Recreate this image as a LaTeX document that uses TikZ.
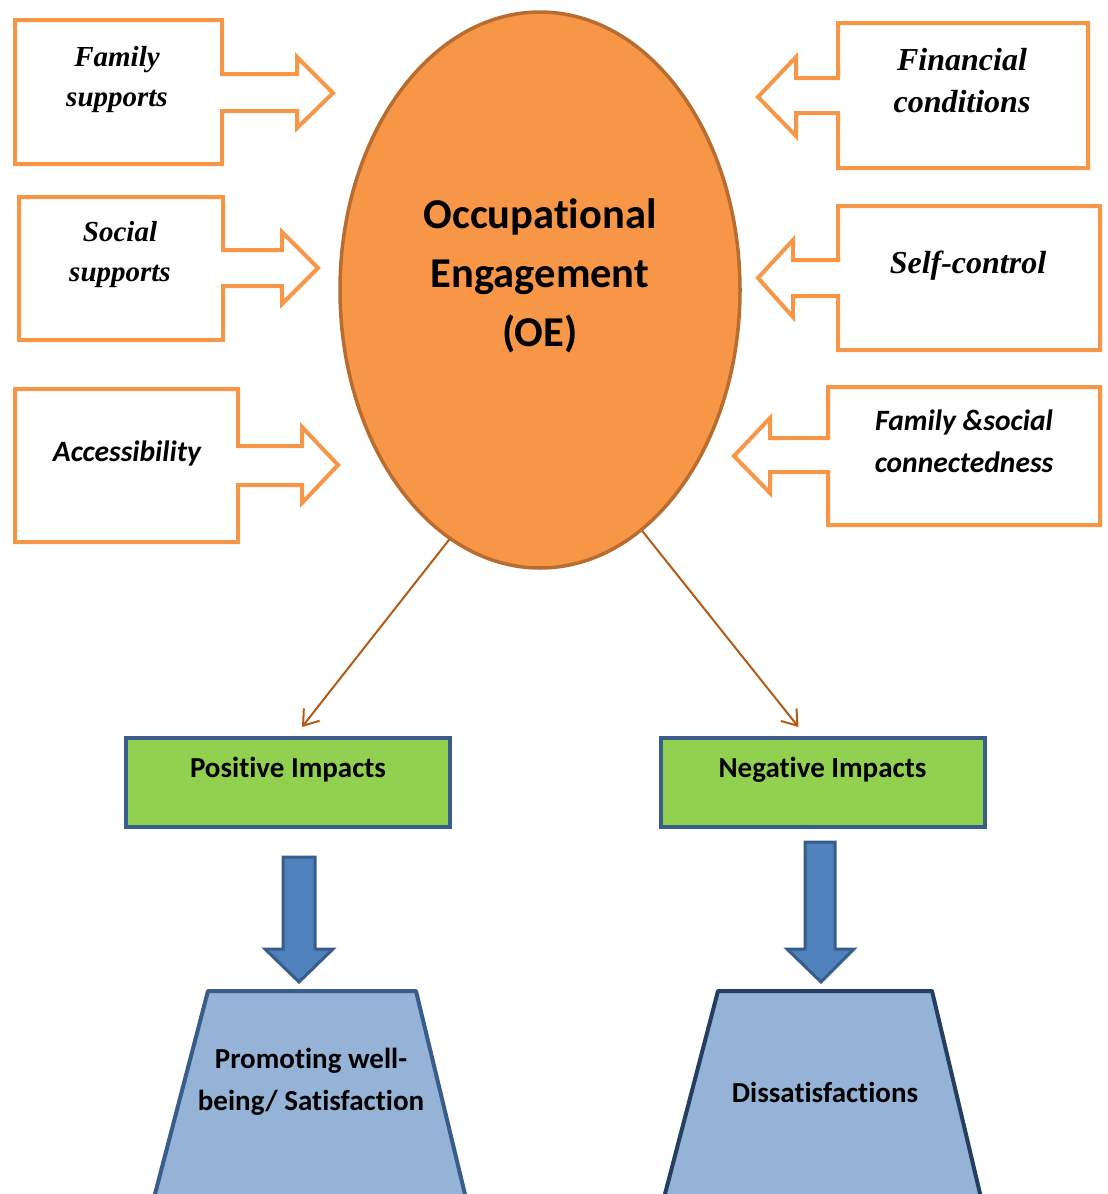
\documentclass[tikz,border=0pt]{standalone}
\usepackage{fontspec}
\setmainfont{Liberation Serif}
\newfontfamily\calibri[Ligatures=NoCommon]{Carlito}
\usetikzlibrary{arrows.meta,shapes.geometric}

\definecolor{factorline}{HTML}{F79646}
\definecolor{oefill}{HTML}{F79646}
\definecolor{oeline}{HTML}{B86C30}
\definecolor{linkbrown}{HTML}{B35A14}
\definecolor{impactgreen}{HTML}{92D050}
\definecolor{darkblue}{HTML}{385D8A}
\definecolor{navyline}{HTML}{243F60}
\definecolor{arrowblue}{HTML}{4F81BD}
\definecolor{outcomeblue}{HTML}{95B3D7}

\begin{document}
\begin{tikzpicture}[x=1pt,y=-1pt,
    callout/.style={draw=factorline,line width=4pt,line join=miter,fill=white},
    factor/.style={align=center,font=\fontsize{#1}{40}\selectfont\bfseries\itshape},
    factorc/.style={align=center,font=\fontsize{29.5}{42}\selectfont\calibri\bfseries\itshape},
    oe/.style={ellipse,draw=oeline,fill=oefill,line width=3.5pt,minimum width=400,minimum height=556},
    link/.style={draw=linkbrown,line width=2pt,-{Straight Barb[length=14pt,width=20pt]}},
    impact/.style={draw=darkblue,fill=impactgreen,line width=4pt,minimum width=324,minimum height=89},
    blockarrow/.style={draw=darkblue,fill=arrowblue,line width=3pt,line join=miter},
    outcome/.style={draw=darkblue,fill=outcomeblue,line width=4pt,line join=round},
    boldtext/.style={align=center,font=\fontsize{#1}{42}\selectfont\calibri\bfseries},
  ]
  \useasboundingbox (0,0) rectangle (1108,1194);

  % left factors, arrows pointing right
  \draw[callout] (15,20) -- (222,20) -- (222,74) -- (297,74) -- (297,57) -- (333,93)
    -- (297,128) -- (297,111) -- (222,111) -- (222,164) -- (15,164) -- cycle;
  \node[factor=29] (famsup) at (117,80) {Family\\supports};

  \draw[callout] (19,197) -- (223,197) -- (223,250) -- (282,250) -- (282,232) -- (318,268)
    -- (282,304) -- (282,286) -- (223,286) -- (223,340) -- (19,340) -- cycle;
  \node[factor=29] (socsup) at (120,255) {Social\\supports};

  \draw[callout] (15,389) -- (238,389) -- (238,446) -- (302,446) -- (302,427) -- (338,465)
    -- (302,503) -- (302,485) -- (238,485) -- (238,542) -- (15,542) -- cycle;
  \node[factorc] (access) at (127,453) {Accessibility};

  % right factors, arrows pointing left
  \draw[callout] (1088,23) -- (838,23) -- (838,78) -- (796,78) -- (796,57) -- (758,97)
    -- (796,136) -- (796,113) -- (838,113) -- (838,168) -- (1088,168) -- cycle;
  \node[factor=32,font=\fontsize{32}{42}\selectfont\bfseries\itshape] (financ) at (962,81) {Financial\\conditions};

  \draw[callout] (1100,206) -- (838,206) -- (838,260) -- (793,260) -- (793,240) -- (758,278)
    -- (793,317) -- (793,296) -- (838,296) -- (838,350) -- (1100,350) -- cycle;
  \node[factor=32] (selfctl) at (968,266) {Self-control};

  \draw[callout] (1100,387) -- (828,387) -- (828,438) -- (770,438) -- (770,418) -- (734,456)
    -- (770,493) -- (770,472) -- (828,472) -- (828,525) -- (1100,525) -- cycle;
  \node[factorc] (famsoc) at (964,441) {Family \&social\\connectedness};

  % central ellipse
  \node[oe] (oe) at (540,290) {};
  \node[boldtext=42.5,font=\fontsize{42.5}{59}\selectfont\calibri\bfseries] (oetext) at (540,276)
    {Occupational\\Engagement\\(OE)};

  % impacts
  \node[impact] (pos) at (288,782.5) {};
  \node[boldtext=29] (postext) at (288,770) {Positive Impacts};
  \node[impact] (neg) at (822.5,782.5) {};
  \node[boldtext=29] (negtext) at (822.5,770) {Negative Impacts};

  \draw[link] (oe.-110) -- ([shift={(14,-9)}]pos.north);
  \draw[link] (oe.-67) -- ([shift={(-24,-9)}]neg.north);

  % down arrows
  \draw[blockarrow] (283,857) -- (315,857) -- (315,949) -- (333,949) -- (299,982)
    -- (265,949) -- (283,949) -- cycle;
  \draw[blockarrow] (805,842) -- (835,842) -- (835,949) -- (854,949) -- (821,982)
    -- (787,949) -- (805,949) -- cycle;

  % outcomes, cut off at the page edge
  \begin{scope}
    \clip (0,0) rectangle (1108,1194);
    \draw[outcome] (208,991) -- (416,991) -- (476,1240) -- (143,1240) -- cycle;
    \draw[outcome,draw=navyline] (718,991) -- (932,991) -- (991,1240) -- (653,1240) -- cycle;
  \end{scope}
  \node[boldtext=29] (promo) at (311,1082) {Promoting well-\\being/ Satisfaction};
  \node[boldtext=29] (dissat) at (825,1092) {Dissatisfactions};
\end{tikzpicture}
\end{document}
